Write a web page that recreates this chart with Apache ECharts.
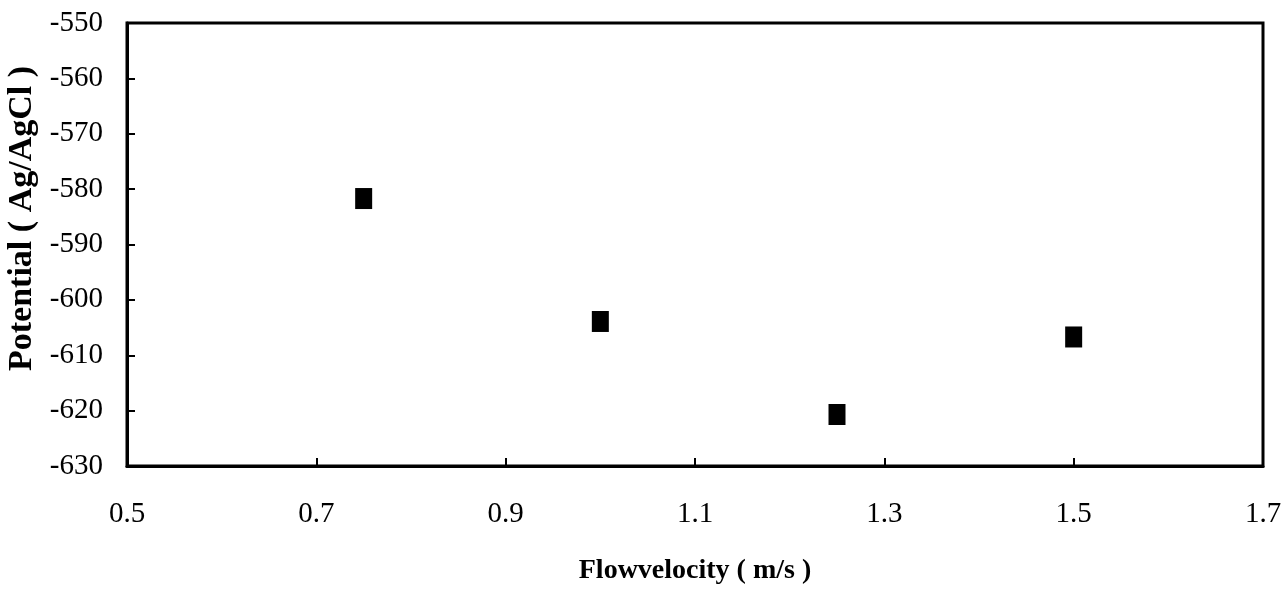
<!DOCTYPE html>
<html>
<head>
<meta charset="utf-8">
<script src="https://cdn.jsdelivr.net/npm/echarts@6/dist/echarts.min.js"></script>
<style>
html,body{margin:0;padding:0;background:#fff;}
#chart{width:1288px;height:593px;}
</style>
</head>
<body>
<div id="chart"></div>
<script>
// Data
var flowVelocity = [0.75, 1.0, 1.25, 1.5];
var potential = [-581.7, -603.9, -620.7, -606.7];
var xName = 'Flowvelocity ( m/s )';
var yName = 'Potential ( Ag/AgCl )';

var points = flowVelocity.map(function (v, i) { return [v, potential[i]]; });
var serif = '"Liberation Serif", "DejaVu Serif", serif';

var chart = echarts.init(document.getElementById('chart'));
chart.setOption({
  backgroundColor: '#ffffff',
  animation: false,
  grid: {
    left: 127, right: 25, top: 23, bottom: 127,
    outerBoundsMode: 'none',
    containLabel: false,
    show: true, borderColor: '#000', borderWidth: 3, backgroundColor: 'transparent'
  },
  xAxis: {
    type: 'value', min: 0.5, max: 1.7, interval: 0.2,
    name: xName, nameLocation: 'middle', nameGap: 91,
    nameTextStyle: { fontFamily: serif, fontWeight: 'bold', fontSize: 28, color: '#000' },
    axisLine: { show: true, onZero: false, lineStyle: { color: '#000', width: 3 } },
    axisTick: { show: true, inside: true, length: 8, lineStyle: { color: '#000', width: 2 } },
    axisLabel: { fontFamily: serif, fontSize: 29, color: '#000', margin: 34,
      formatter: function (v) { return v.toFixed(1); } },
    splitLine: { show: false }
  },
  yAxis: {
    type: 'value', min: -630, max: -550, interval: 10,
    name: yName, nameLocation: 'middle', nameGap: 87, nameRotate: 90,
    nameTextStyle: { fontFamily: serif, fontWeight: 'bold', fontSize: 34, color: '#000',
      padding: [0, 0, 0, 52] },
    axisLine: { show: true, onZero: false, lineStyle: { color: '#000', width: 3 } },
    axisTick: { show: true, inside: true, length: 8, lineStyle: { color: '#000', width: 2 } },
    axisLabel: { fontFamily: serif, fontSize: 29, color: '#000', margin: 24 },
    splitLine: { show: false }
  },
  series: [{
    type: 'scatter',
    data: points,
    symbol: 'rect',
    symbolSize: [17, 21],
    itemStyle: { color: '#000', opacity: 1 }
  }]
});
</script>
</body>
</html>
